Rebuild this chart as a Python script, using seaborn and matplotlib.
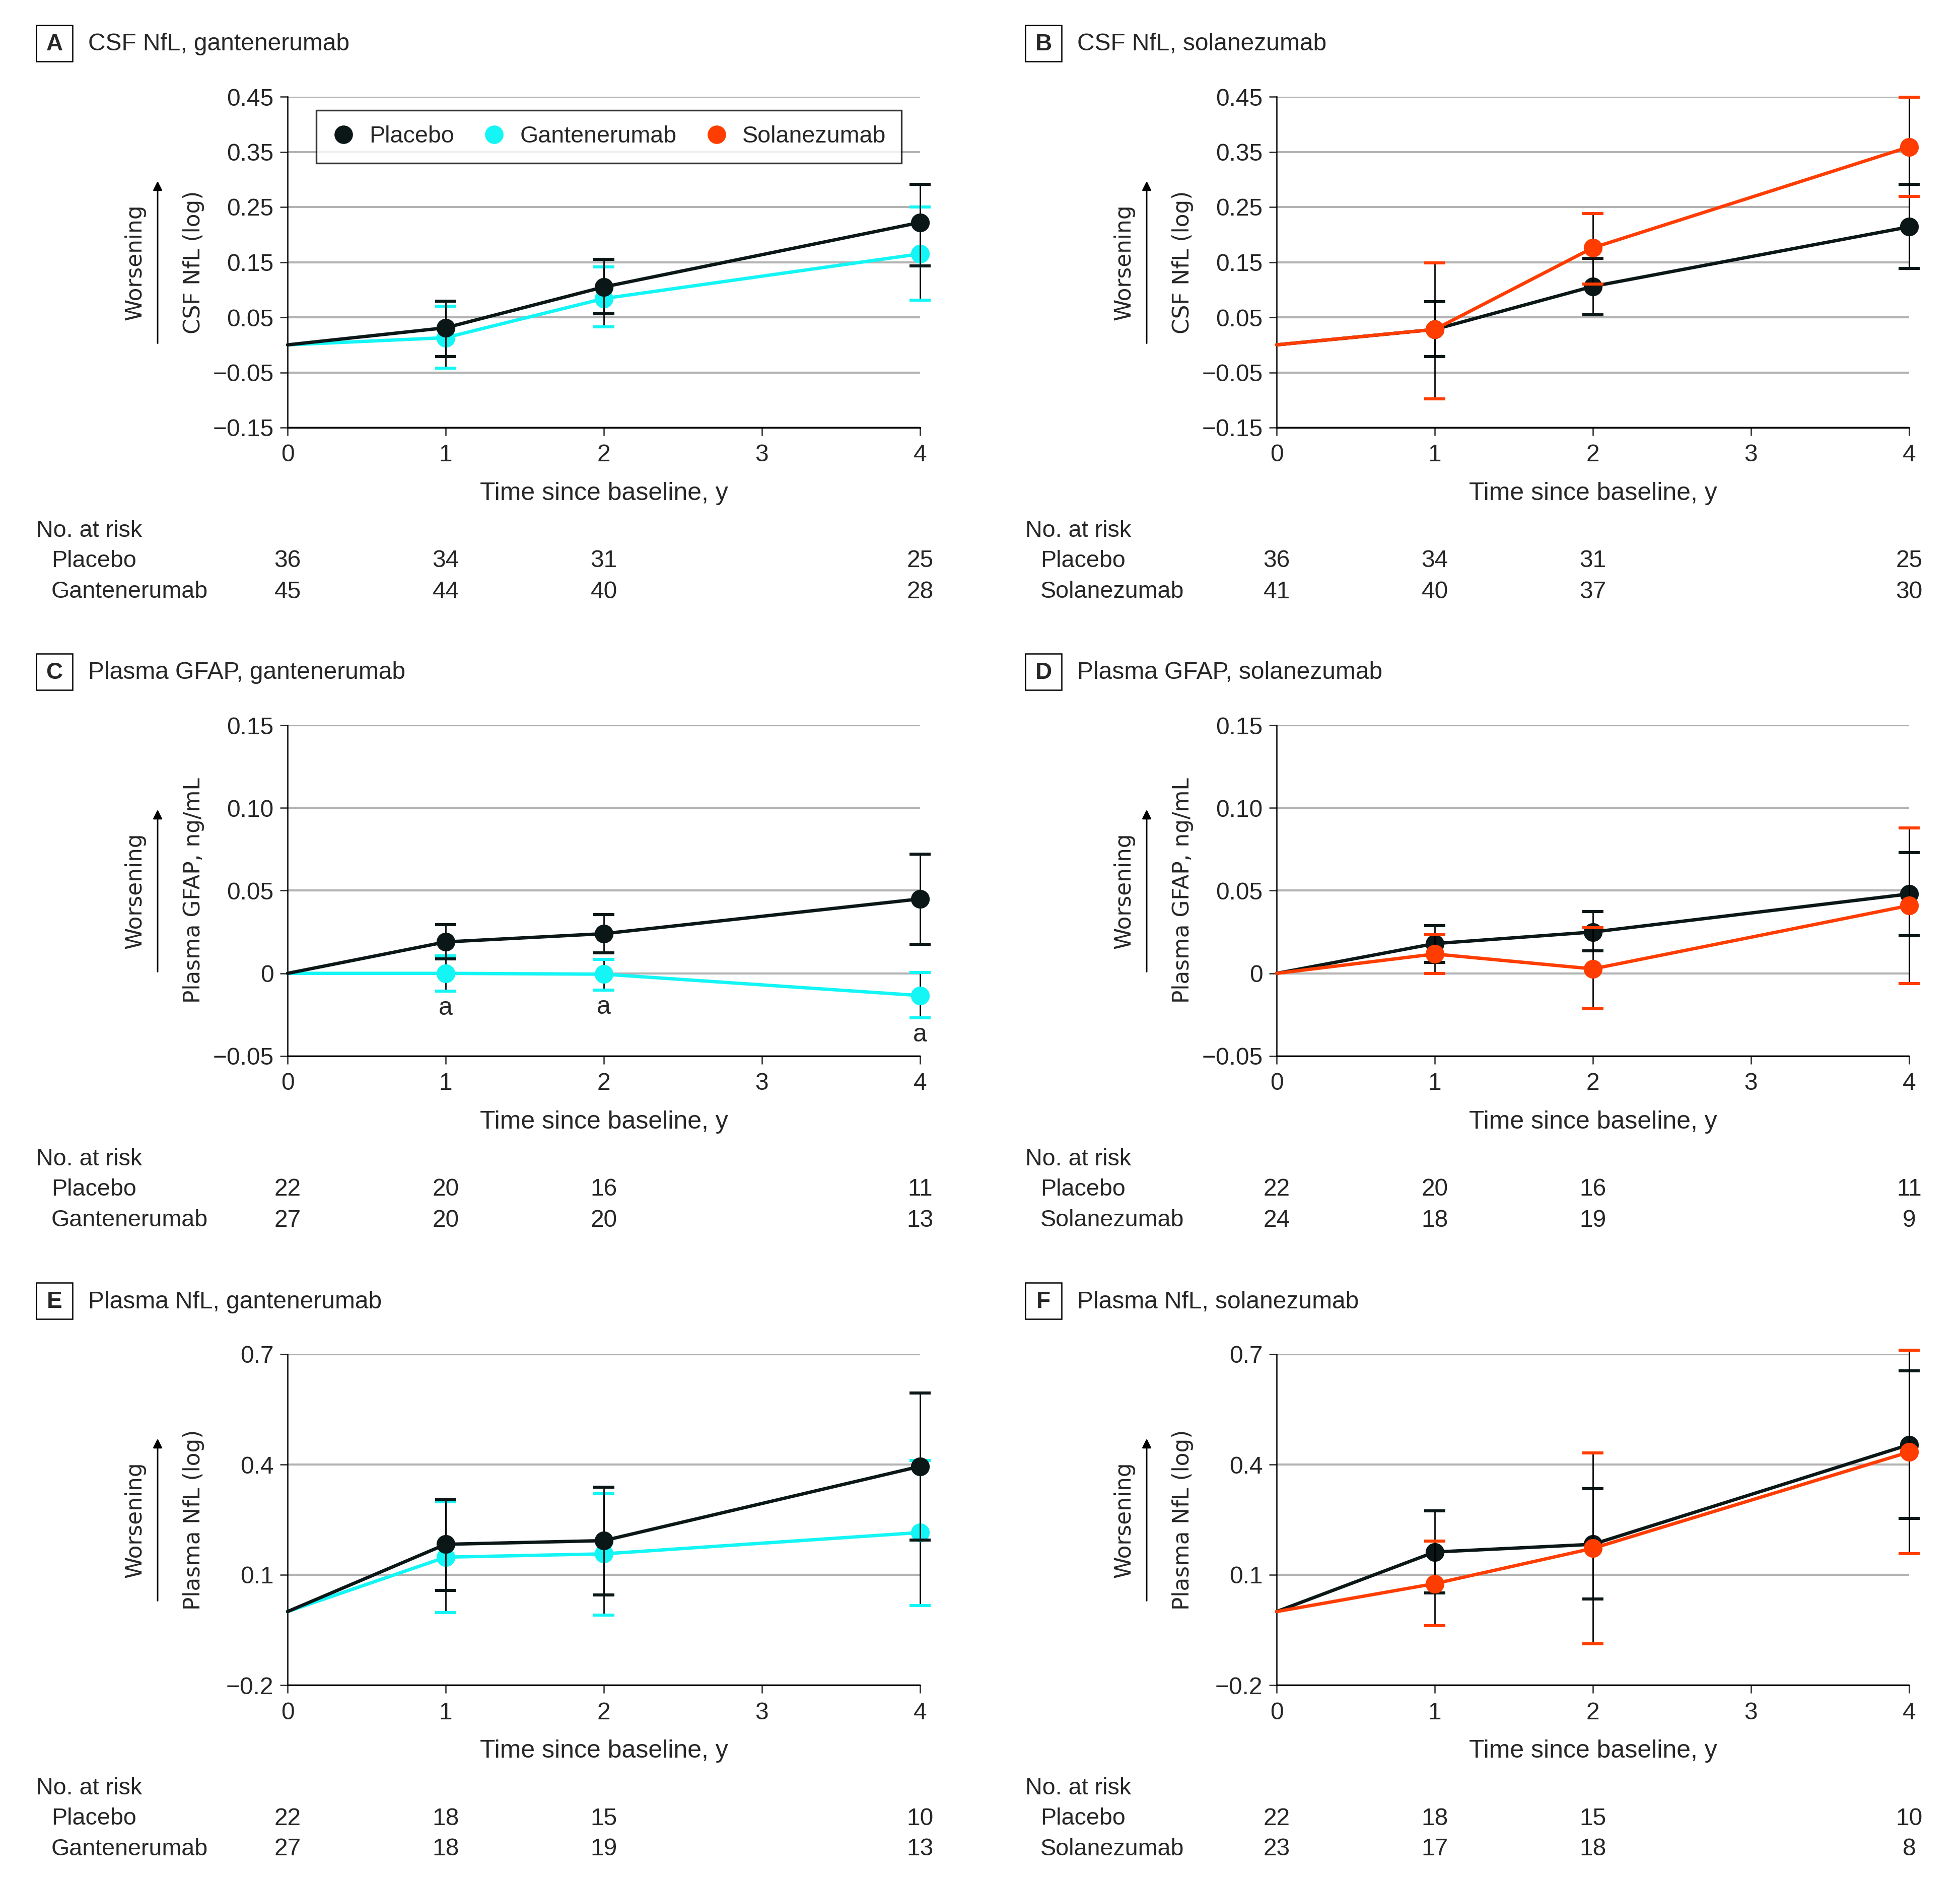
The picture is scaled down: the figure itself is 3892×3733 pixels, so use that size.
# treatment vs placebo biomarker trajectories, 6 panels (A-F)

import matplotlib
matplotlib.use('Agg')
import matplotlib.pyplot as plt
import seaborn as sns
import pandas as pd
from matplotlib.lines import Line2D
from matplotlib.patches import Rectangle

# ---- data ----
times = [0, 1, 2, 4]
err_times = [1, 2, 4]

# A: CSF NfL, gantenerumab
a_pbo_mean = [0, 0.031, 0.105, 0.222]
a_pbo_lo = [-0.021, 0.056, 0.143]
a_pbo_hi = [0.079, 0.155, 0.291]
a_trt_mean = [0, 0.013, 0.084, 0.165]
a_trt_lo = [-0.042, 0.033, 0.081]
a_trt_hi = [0.070, 0.141, 0.250]
a_pbo_n = [36, 34, 31, 25]
a_trt_n = [45, 44, 40, 28]

# B: CSF NfL, solanezumab
b_pbo_mean = [0, 0.028, 0.106, 0.214]
b_pbo_lo = [-0.021, 0.055, 0.139]
b_pbo_hi = [0.078, 0.157, 0.291]
b_trt_mean = [0, 0.028, 0.176, 0.359]
b_trt_lo = [-0.098, 0.110, 0.269]
b_trt_hi = [0.149, 0.238, 0.449]
b_pbo_n = [36, 34, 31, 25]
b_trt_n = [41, 40, 37, 30]

# C: Plasma GFAP, gantenerumab
c_pbo_mean = [0, 0.019, 0.024, 0.045]
c_pbo_lo = [0.0088, 0.0124, 0.0176]
c_pbo_hi = [0.0293, 0.0354, 0.0722]
c_trt_mean = [0, 0.0, -0.0005, -0.0134]
c_trt_lo = [-0.0107, -0.0102, -0.0268]
c_trt_hi = [0.0105, 0.0085, 0.0005]
c_pbo_n = [22, 20, 16, 11]
c_trt_n = [27, 20, 20, 13]

# D: Plasma GFAP, solanezumab
d_pbo_mean = [0, 0.018, 0.025, 0.048]
d_pbo_lo = [0.0066, 0.0137, 0.0229]
d_pbo_hi = [0.0288, 0.0373, 0.0729]
d_trt_mean = [0, 0.0117, 0.0027, 0.041]
d_trt_lo = [0.0, -0.0215, -0.0061]
d_trt_hi = [0.0234, 0.0276, 0.088]
d_pbo_n = [22, 20, 16, 11]
d_trt_n = [24, 18, 19, 9]

# E: Plasma NfL, gantenerumab
e_pbo_mean = [0, 0.183, 0.193, 0.395]
e_pbo_lo = [0.057, 0.0455, 0.194]
e_pbo_hi = [0.304, 0.338, 0.595]
e_trt_mean = [0, 0.148, 0.157, 0.215]
e_trt_lo = [-0.003, -0.009, 0.016]
e_trt_hi = [0.299, 0.321, 0.411]
e_pbo_n = [22, 18, 15, 10]
e_trt_n = [27, 18, 19, 13]

# F: Plasma NfL, solanezumab
f_pbo_mean = [0, 0.162, 0.183, 0.454]
f_pbo_lo = [0.051, 0.034, 0.254]
f_pbo_hi = [0.274, 0.334, 0.655]
f_trt_mean = [0, 0.076, 0.172, 0.434]
f_trt_lo = [-0.039, -0.088, 0.157]
f_trt_hi = [0.192, 0.432, 0.711]
f_pbo_n = [22, 18, 15, 10]
f_trt_n = [23, 17, 18, 8]

# y axes
csf_ticks = [-0.15, -0.05, 0.05, 0.15, 0.25, 0.35, 0.45]
csf_labels = ['\u22120.15', '\u22120.05', '0.05', '0.15', '0.25', '0.35', '0.45']
gfap_ticks = [-0.05, 0, 0.05, 0.10, 0.15]
gfap_labels = ['\u22120.05', '0', '0.05', '0.10', '0.15']
pnfl_ticks = [-0.2, 0.1, 0.4, 0.7]
pnfl_labels = ['\u22120.2', '0.1', '0.4', '0.7']

PBO = '#0b1717'
GANT = '#14f5f5'
SOLA = '#ff3d00'

# ---- figure geometry (pixels of the 3892x3733 output) ----
W, H, DPI = 3892, 3733, 300
LEFTS = [571, 2535]
TOPS = [192, 1440, 2689]
AX_W, AX_H = 1256, 657
TXT = 11.2  # size of risk table / legend text


def pt(px):
    return px * 72.0 / DPI


sns.set_style('white')
plt.rcParams['font.family'] = ['Liberation Sans', 'DejaVu Sans']
plt.rcParams['axes.unicode_minus'] = True

fig = plt.figure(figsize=(W / DPI, H / DPI), dpi=DPI)


def draw_panel(l, t, letter, title, ylabel, yticks, ylabels, series, risk,
               legend=False, notes=False):
    ax = fig.add_axes([l / W, 1 - (t + AX_H) / H, AX_W / W, AX_H / H])

    for name, color, mean, lo, hi, z in series:
        sns.lineplot(x=times, y=mean, color=color, lw=1.6, ax=ax,
                     zorder=z, clip_on=False, errorbar=None)
        eb = ax.errorbar(err_times, mean[1:],
                         yerr=[[m - a for m, a in zip(mean[1:], lo)],
                               [b - m for m, b in zip(mean[1:], hi)]],
                         fmt='none', ecolor='black', elinewidth=0.65,
                         capsize=5, capthick=1.45, zorder=z - 0.5)
        for cap in eb.lines[1]:
            cap.set_markeredgecolor(color)
            cap.set_markerfacecolor(color)
            cap.set_clip_on(False)
        for stem in eb.lines[2]:
            stem.set_clip_on(False)
        sns.scatterplot(x=err_times, y=mean[1:], color=color, s=80,
                        linewidth=0, ax=ax, zorder=z + 0.2, clip_on=False)
        # significance marks under the treatment group only
        if notes and name != 'Placebo':
            for x, y in zip(err_times, lo):
                ax.annotate('a', xy=(x, y), xytext=(0, pt(-34)),
                            textcoords='offset points', ha='center',
                            va='center', fontsize=12)

    ax.set_xlim(0, 4)
    ax.set_ylim(yticks[0], yticks[-1])
    ax.set_xticks([0, 1, 2, 3, 4])
    ax.set_yticks(yticks)
    ax.set_yticklabels(ylabels)
    ax.tick_params(axis='y', direction='out', length=3.6, width=0.6,
                   pad=3, labelsize=11.5, left=True)
    ax.tick_params(axis='x', direction='out', length=3.8, width=0.6,
                   pad=4, labelsize=11.5, bottom=True)
    ax.yaxis.grid(True, color='#b3b3b3', lw=1.0)
    ax.set_axisbelow(True)
    for s in ['top', 'right']:
        ax.spines[s].set_visible(False)
    ax.spines['left'].set_linewidth(0.6)
    ax.spines['bottom'].set_linewidth(0.75)
    ax.spines['left'].set_color('black')
    ax.spines['bottom'].set_color('black')

    # axis labels
    ax.set_xlabel('Time since baseline, y', fontsize=12)
    ax.xaxis.set_label_coords(0.5, -131 / AX_H)
    ax.xaxis.label.set_va('center')
    ax.set_ylabel(ylabel, fontsize=10.5, family='DejaVu Sans')
    ax.yaxis.set_label_coords(-186 / AX_W, 0.5)
    ax.yaxis.label.set_va('center')
    ax.text(-303 / AX_W, 0.5, 'Worsening', transform=ax.transAxes,
            rotation=90, ha='center', va='center', fontsize=10.5,
            family='DejaVu Sans')
    ax.annotate('', xy=(-258 / AX_W, 0.5 + 161 / AX_H),
                xytext=(-258 / AX_W, 0.5 - 161 / AX_H),
                xycoords='axes fraction', annotation_clip=False,
                arrowprops=dict(arrowstyle='-|>', lw=0.7, color='black',
                                mutation_scale=9, shrinkA=0, shrinkB=0))

    # panel letter and title
    fig.add_artist(Rectangle(((l - 499) / W, 1 - (t - 70) / H), 72 / W, 72 / H,
                             transform=fig.transFigure, fill=False,
                             lw=0.6, edgecolor='black'))
    fig.text((l - 463) / W, 1 - (t - 104) / H, letter, ha='center',
             va='center', fontsize=11, fontweight='bold')
    fig.text((l - 396) / W, 1 - (t - 104) / H, title, ha='left',
             va='center', fontsize=11.5)

    # number at risk table
    ax.annotate('No. at risk', xy=(0, 0), xycoords='axes fraction',
                xytext=(pt(-499), pt(-205)), textcoords='offset points',
                ha='left', va='center', fontsize=TXT)
    for j, (label, counts) in enumerate(risk):
        dy = pt(-265 - 61 * j)
        ax.annotate(label, xy=(0, 0), xycoords='axes fraction',
                    xytext=(pt(-469), dy), textcoords='offset points',
                    ha='left', va='center', fontsize=TXT)
        for x, n in zip(times, counts):
            ax.annotate(str(n), xy=(x, 0), xycoords=('data', 'axes fraction'),
                        xytext=(0, dy), textcoords='offset points',
                        ha='center', va='center', fontsize=11.5)

    if legend:
        handles = [Line2D([], [], marker='o', ls='none', color=c, ms=8.8,
                          mew=0, label=n)
                   for n, c in [('Placebo', PBO), ('Gantenerumab', GANT),
                                ('Solanezumab', SOLA)]]
        leg = ax.legend(handles=handles, loc='upper left',
                        bbox_to_anchor=(57 / AX_W, 1 - 27 / AX_H), ncol=3,
                        fontsize=TXT, frameon=True, fancybox=False,
                        edgecolor='black', borderpad=0.65, handlelength=1.0,
                        handletextpad=0.6, columnspacing=1.2,
                        borderaxespad=0)
        leg.get_frame().set_linewidth(0.8)
    return ax


panels = [
    (0, 0, 'A', 'CSF NfL, gantenerumab', 'CSF NfL (log)', csf_ticks, csf_labels,
     [('Gantenerumab', GANT, a_trt_mean, a_trt_lo, a_trt_hi, 3),
      ('Placebo', PBO, a_pbo_mean, a_pbo_lo, a_pbo_hi, 5)],
     [('Placebo', a_pbo_n), ('Gantenerumab', a_trt_n)], True, False),
    (0, 1, 'B', 'CSF NfL, solanezumab', 'CSF NfL (log)', csf_ticks, csf_labels,
     [('Placebo', PBO, b_pbo_mean, b_pbo_lo, b_pbo_hi, 3),
      ('Solanezumab', SOLA, b_trt_mean, b_trt_lo, b_trt_hi, 5)],
     [('Placebo', b_pbo_n), ('Solanezumab', b_trt_n)], False, False),
    (1, 0, 'C', 'Plasma GFAP, gantenerumab', 'Plasma GFAP, ng/mL', gfap_ticks, gfap_labels,
     [('Gantenerumab', GANT, c_trt_mean, c_trt_lo, c_trt_hi, 3),
      ('Placebo', PBO, c_pbo_mean, c_pbo_lo, c_pbo_hi, 5)],
     [('Placebo', c_pbo_n), ('Gantenerumab', c_trt_n)], False, True),
    (1, 1, 'D', 'Plasma GFAP, solanezumab', 'Plasma GFAP, ng/mL', gfap_ticks, gfap_labels,
     [('Placebo', PBO, d_pbo_mean, d_pbo_lo, d_pbo_hi, 3),
      ('Solanezumab', SOLA, d_trt_mean, d_trt_lo, d_trt_hi, 5)],
     [('Placebo', d_pbo_n), ('Solanezumab', d_trt_n)], False, False),
    (2, 0, 'E', 'Plasma NfL, gantenerumab', 'Plasma NfL (log)', pnfl_ticks, pnfl_labels,
     [('Gantenerumab', GANT, e_trt_mean, e_trt_lo, e_trt_hi, 3),
      ('Placebo', PBO, e_pbo_mean, e_pbo_lo, e_pbo_hi, 5)],
     [('Placebo', e_pbo_n), ('Gantenerumab', e_trt_n)], False, False),
    (2, 1, 'F', 'Plasma NfL, solanezumab', 'Plasma NfL (log)', pnfl_ticks, pnfl_labels,
     [('Placebo', PBO, f_pbo_mean, f_pbo_lo, f_pbo_hi, 3),
      ('Solanezumab', SOLA, f_trt_mean, f_trt_lo, f_trt_hi, 5)],
     [('Placebo', f_pbo_n), ('Solanezumab', f_trt_n)], False, False),
]

for row, col, letter, title, ylab, yt, yl, series, risk, leg, notes in panels:
    draw_panel(LEFTS[col], TOPS[row], letter, title, ylab, yt, yl, series,
               risk, legend=leg, notes=notes)

fig.savefig('out.png', dpi=DPI, facecolor='white')
